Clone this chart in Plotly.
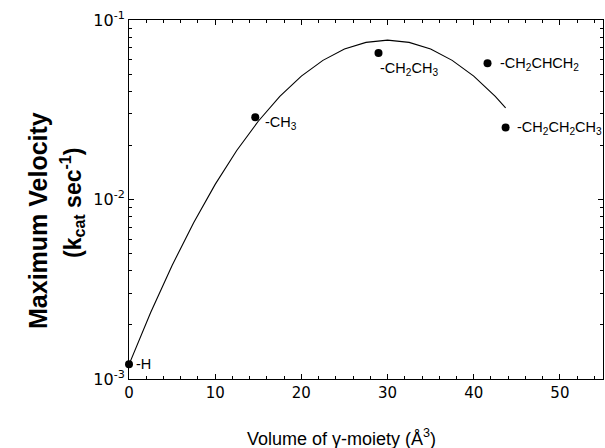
import plotly.graph_objects as go
import math

# Data points (volume of gamma-moiety, kcat)
volumes = [0.0, 14.65, 28.95, 41.6, 43.7]
kcat = [0.00121, 0.0287, 0.0655, 0.0575, 0.0252]
labels = ["-H", "-CH<sub>3</sub>", "-CH<sub>2</sub>CH<sub>3</sub>",
          "-CH<sub>2</sub>CHCH<sub>2</sub>", "-CH<sub>2</sub>CH<sub>2</sub>CH<sub>3</sub>"]

# Fitted curve
curve_x = [0, 2.5, 5, 7.5, 10, 12.5, 15, 17.5, 20, 22.5, 25, 27.5, 30,
           32.5, 35, 37.5, 40, 42.5, 43.7]
curve_y = [0.001202, 0.00234, 0.00429, 0.00743, 0.01214, 0.01874, 0.02729,
           0.0375, 0.04864, 0.05957, 0.06887, 0.07505, 0.07727, 0.07505,
           0.06887, 0.05957, 0.04864, 0.0375, 0.03243]

x_ticks = [0, 10, 20, 30, 40, 50]
y_ticks = [1e-3, 1e-2, 1e-1]
y_ticktext = ["10<sup>-3</sup>", "10<sup>-2</sup>", "10<sup>-1</sup>"]

FONT = "Liberation Sans, Arial, sans-serif"
NARROW = "Liberation Sans Narrow, Liberation Sans, Arial, sans-serif"
TICKFONT = "DejaVu Sans, sans-serif"

fig = go.Figure()
fig.add_trace(go.Scatter(x=curve_x, y=curve_y, mode="lines",
                         line=dict(color="black", width=1.1),
                         showlegend=False, hoverinfo="skip"))
fig.add_trace(go.Scatter(x=volumes, y=kcat, mode="markers",
                         marker=dict(color="black", size=8),
                         cliponaxis=False, showlegend=False))

# label offsets (pixels)
offsets = [(5, 0), (8, -6), (-1, -16), (10, -1), (9, -1)]
for vx, vy, lab, (dx, dy) in zip(volumes, kcat, labels, offsets):
    fig.add_annotation(x=vx, y=math.log10(vy), text=lab, showarrow=False,
                       xanchor="left", yanchor="middle", xshift=dx, yshift=dy,
                       font=dict(family=FONT, size=14.5, color="black"))

# axis titles as annotations
fig.add_annotation(xref="paper", yref="paper", x=(341 - 129) / 474, y=-0.125,
                   yanchor="top", text="Volume of γ-moiety (Å<sup>3</sup>)",
                   showarrow=False, font=dict(family=FONT, size=18, color="black"))
fig.add_annotation(xref="paper", yref="paper", x=(22 - 129) / 474,
                   y=1 - (221 - 20) / 359, textangle=-90,
                   text="<b>Maximum Velocity</b>", showarrow=False,
                   font=dict(family=FONT, size=25, color="black"))
fig.add_annotation(xref="paper", yref="paper", x=(54 - 129) / 474,
                   y=1 - (203 - 20) / 359, textangle=-90,
                   text="<b>(k<sub>cat</sub> sec<sup>-1</sup>)</b>", showarrow=False,
                   font=dict(family=NARROW, size=23, color="black"))

minor_y = [m * 10 ** e for e in (-3, -2) for m in range(2, 10)]
minor_x = [v for v in range(0, 56, 2) if v % 10 != 0]

fig.update_xaxes(range=[0, 55], tickvals=x_ticks, ticks="inside", ticklen=5,
                 tickcolor="black", showline=True, linecolor="black", linewidth=1,
                 mirror="ticks", showgrid=False, zeroline=False,
                 tickfont=dict(family=TICKFONT, size=15, color="black"),
                 minor=dict(tickvals=minor_x, ticks="inside", ticklen=3,
                            tickcolor="black", showgrid=False))
fig.update_yaxes(type="log", range=[-3, -1], tickvals=y_ticks, ticktext=y_ticktext,
                 ticks="inside", ticklen=5, tickcolor="black", showline=True,
                 linecolor="black", linewidth=1, mirror="ticks", showgrid=False,
                 zeroline=False,
                 tickfont=dict(family=TICKFONT, size=16, color="black"),
                 minor=dict(tickvals=minor_y, ticks="inside", ticklen=3,
                            tickcolor="black", showgrid=False))

fig.update_layout(width=605, height=448, plot_bgcolor="white", paper_bgcolor="white",
                  margin=dict(l=129, r=2, t=20, b=69), font=dict(family=FONT))

fig.write_html("out.html", config={"displayModeBar": False},
               post_script="document.body.style.margin='0';document.body.style.overflow='hidden';")
